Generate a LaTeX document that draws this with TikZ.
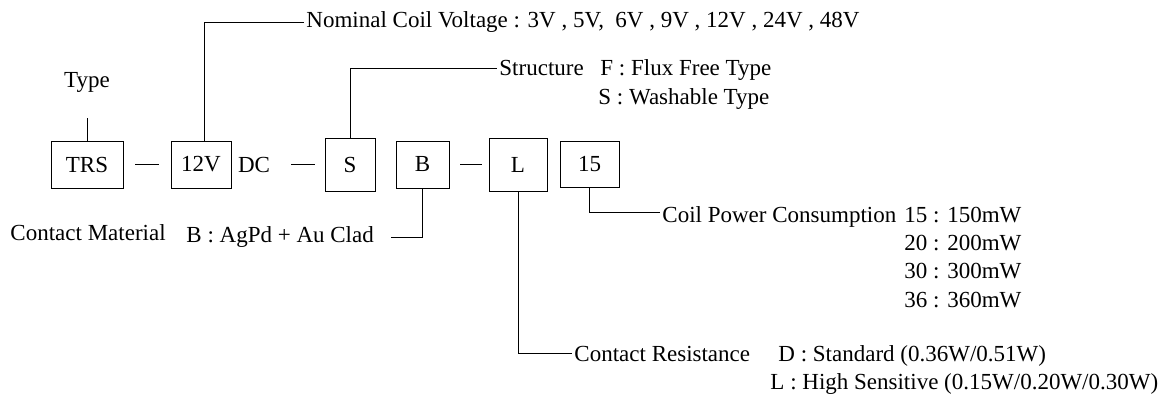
\documentclass[tikz,border=0pt]{standalone}
\usepackage{fontspec}
\setmainfont{Liberation Serif}
\begin{document}
\begin{tikzpicture}[x=1pt,y=-1pt,line width=0.9pt,
    box/.style={draw,inner sep=0pt},
    lbl/.style={inner sep=2pt,anchor=base west}]
        \useasboundingbox (0,0) rectangle (1176,398);
        \fontsize{23}{27}\selectfont
        % code boxes
        \node[box,minimum width=72,minimum height=47] (trs) at (87,164.5) {TRS};
        \node[box,minimum width=60,minimum height=47] (v12) at (201,164.5) {12V};
        \node[inner sep=0pt] (dc) at (254,164.5) {DC};
        \node[box,minimum width=50,minimum height=53] (s) at (350,164.5) {S};
        \node[box,minimum width=53,minimum height=47] (b) at (422.5,164.5) {B};
        \node[box,minimum width=58,minimum height=53] (l) at (518,164.5) {L};
        \node[box,minimum width=59,minimum height=46] (c15) at (589.5,164) {15};
        \draw[shorten <=12pt,shorten >=12pt] (trs) -- (v12);
        \draw[shorten <=21pt,shorten >=10pt] (dc) -- (s);
        \draw[shorten <=11pt,shorten >=7pt] (b) -- (l);
        % labels
        \node[inner sep=2pt,anchor=base] (type) at (87,88) {Type};
        \node[lbl] (nom) at (304,28) {Nominal Coil Voltage : 3V , 5V,\ \ 6V , 9V , 12V , 24V , 48V};
        \node[lbl] (struct) at (497,76) {Structure};
        \node[lbl] (flux) at (598,76) {F : Flux Free Type};
        \node[lbl] (wash) at (596,105) {S : Washable Type};
        \node[lbl] (mat) at (8,241) {Contact Material};
        \node[lbl] (agpd) at (184,243) {B : AgPd + Au Clad};
        \node[lbl] (coil) at (660,223) {Coil Power Consumption};
        \node[lbl] (p15) at (902,223) {15 : 150mW};
        \node[lbl] (p20) at (902,251) {20 : 200mW};
        \node[lbl] (p30) at (902,279) {30 : 300mW};
        \node[lbl] (p36) at (902,307) {36 : 360mW};
        \node[lbl] (res) at (572,361) {Contact Resistance};
        \node[lbl] (std) at (776,361) {D : Standard (0.36W/0.51W)};
        \node[lbl] (high) at (768,389) {L : High Sensitive (0.15W/0.20W/0.30W)};
        % leaders
        \draw (trs.north) -- ([yshift=-23pt]type.south);
        \draw ([xshift=3pt]v12.north) |- (nom.west);
        \draw (s.north) |- (struct.west);
        \draw (b.south) |- ([xshift=15pt]agpd.east);
        \draw (c15.south) |- ([yshift=5pt]coil.west);
        \draw (l.south) |- (res.west);
    \end{tikzpicture}
\end{document}
